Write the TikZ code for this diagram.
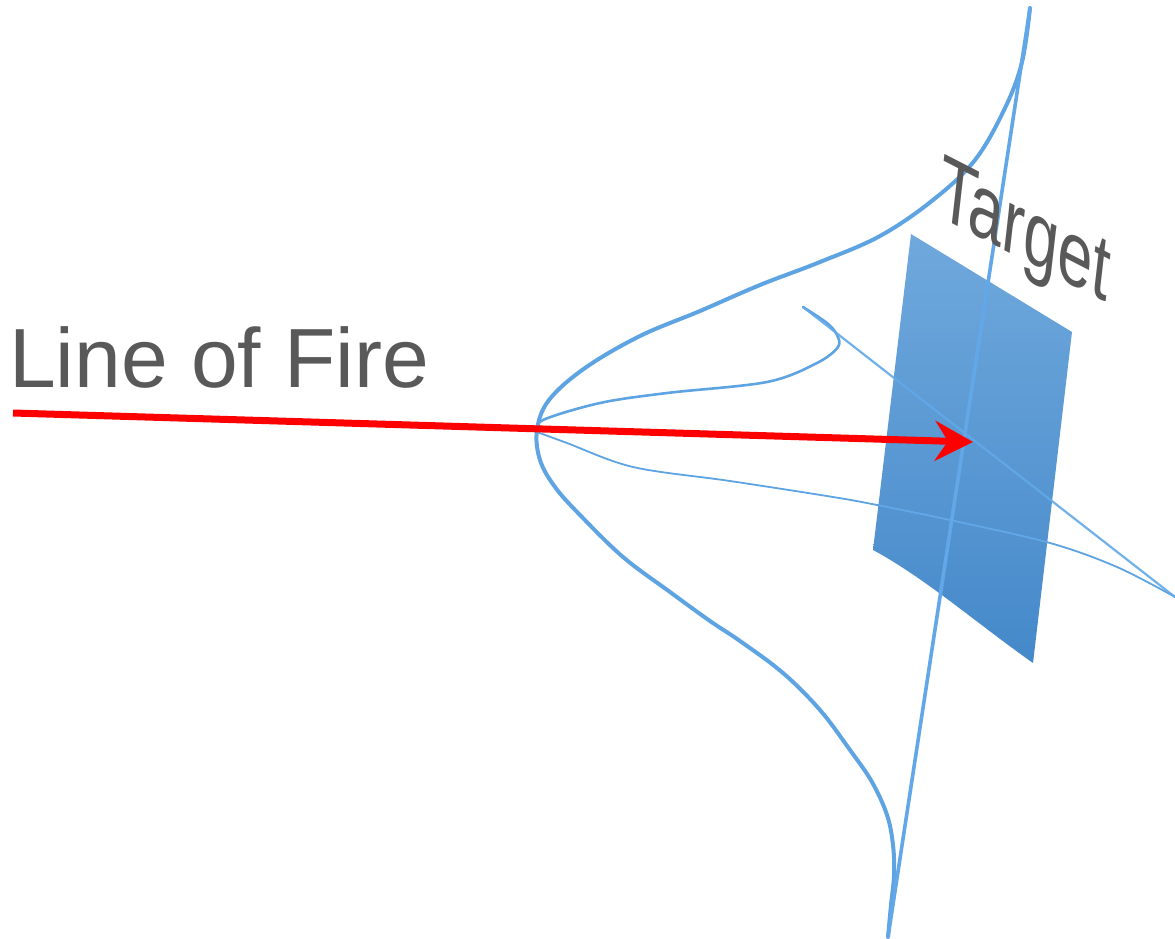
\documentclass[tikz,border=0pt]{standalone}
\usepackage{fontspec}
\setmainfont{Liberation Sans}
\usetikzlibrary{arrows.meta}
\definecolor{curveblue}{HTML}{5FA4E2}
\definecolor{axisblue}{HTML}{62A8E8}
\definecolor{tgttop}{HTML}{6FA8DC}
\definecolor{tgtbot}{HTML}{4589CA}
\definecolor{txtgray}{HTML}{595959}
\definecolor{firered}{HTML}{FF0000}
\begin{document}
\begin{tikzpicture}[x=1pt,y=-1pt,
  thickcurve/.style={draw=curveblue, line width=4pt, line join=round, line cap=round},
  thincurve/.style={draw=curveblue, line width=2.6pt, line join=round, line cap=round},
  finecurve/.style={draw=curveblue, line width=1.8pt, line join=round, line cap=round},
  axisline/.style={draw=axisblue, line width=3.6pt, line cap=round},
  firearrow/.style={draw=firered, line width=7pt, -{Stealth[length=38pt,width=40pt,inset=13pt]}},
  bigtext/.style={text=txtgray, inner sep=0pt, font=\fontsize{84}{100}\selectfont}]
\useasboundingbox (0,0) rectangle (1175,939);

% gaussian envelope (thick)
\draw[thickcurve] plot[smooth, tension=0.6] coordinates {
 (1030,8) (1022,62) (1005,108) (975,160) (933,200) (880,236) (820,262)
 (760,285) (700,311) (640,336) (585,368) (549,400) (537,430)
 (540,460) (555,487) (580,515) (623,557) (670,592) (710,621) (740,641) (783,673)
 (820,710) (850,750) (872,782) (887,815) (893,845) (894,875) (891,905) (888,937)};

% inner gaussian (thin)
\coordinate (hook) at (803,307);
\coordinate (farend) at (1175,597);
\coordinate (apex) at (537,432);
\draw[thincurve] plot[smooth, tension=0.55] coordinates {
 (803,307) (827,323) (837,335) (838,347) (817,363) (767,382) (667,393)
 (600,403) (543,420) (537,432)};
\draw[finecurve] plot[smooth, tension=0.55] coordinates {
 (537,432) (567,443) (633,467) (730,481) (833,497) (877,505) (950,520)
 (1050,543) (1117,567) (1175,597)};

% target plate
\shade[top color=tgttop, bottom color=tgtbot]
 (911,234) -- (1072,332) -- (1033,663)
 .. controls (975,622) and (925,578) .. (873,550) -- cycle;

% lines seen over the plate
\draw[thincurve, line width=2.2pt, draw=axisblue, opacity=0.9] (hook) -- (farend);
\draw[axisline] (1030,8) coordinate (axtop) -- (888,937) coordinate (axbot);
\begin{scope}
\clip (911,234) -- (1072,332) -- (1033,663) -- (873,550) -- cycle;
\draw[finecurve, draw=axisblue] plot[smooth, tension=0.55] coordinates {
 (833,497) (877,505) (950,520) (1050,543) (1117,567)};
\end{scope}

% line of fire
\coordinate (lofstart) at (13,413);
\coordinate (aim) at (973,442);
\draw[firearrow] (lofstart) -- (aim);

% labels
\node[bigtext, anchor=base west] (loflabel) at (9,387) {Line of Fire};
\node[bigtext, anchor=base west, cm={0.73,-0.375,0.122,1.07,(0,0)}] (tgtlabel) at (936,215) {Target};
\end{tikzpicture}
\end{document}
